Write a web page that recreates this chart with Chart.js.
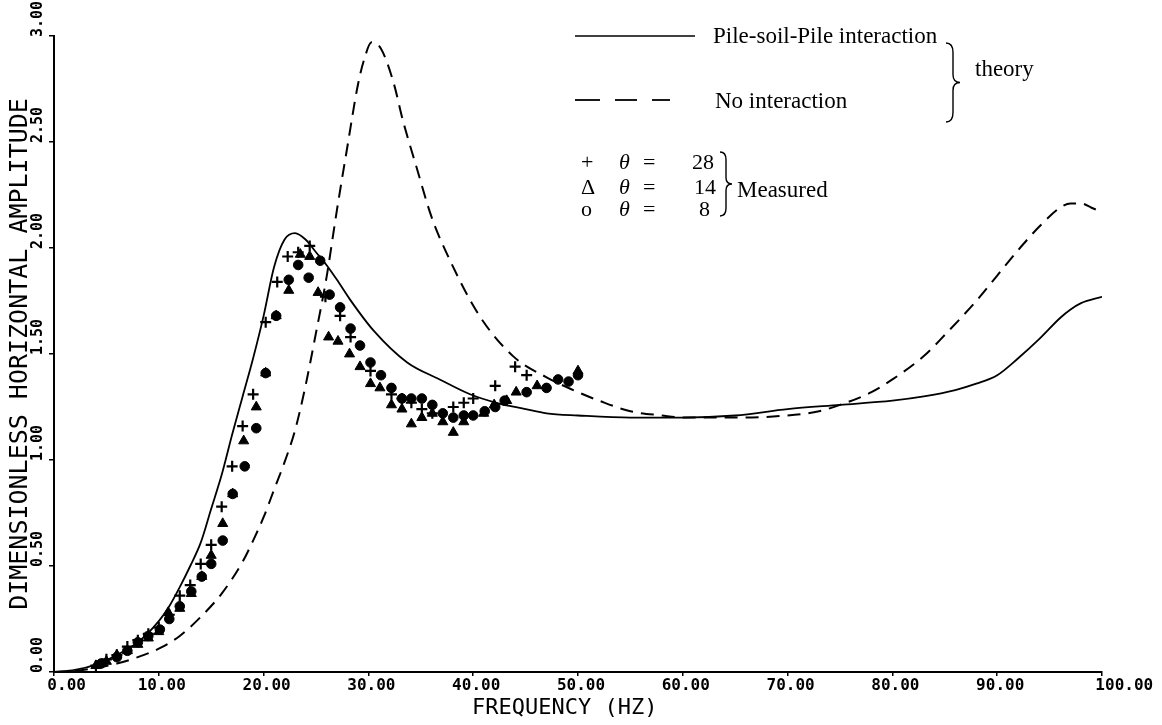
<!DOCTYPE html>
<html><head><meta charset="utf-8">
<script src="https://cdn.jsdelivr.net/npm/chart.js@4.4.0/dist/chart.umd.min.js"></script>
<style>html,body{margin:0;padding:0;background:#fff;}canvas{display:block;}</style>
</head><body>
<canvas id="c" width="1162" height="725"></canvas>
<script>
const xTickLabels = ['0.00','10.00','20.00','30.00','40.00','50.00','60.00','70.00','80.00','90.00','100.00'];
const yTickLabels = ['0.00','0.50','1.00','1.50','2.00','2.50','3.00'];

// Theory: pile-soil-pile interaction (solid)
const solidFreq = [0,2,4,6,8,10,11,12,13,14,15,16,17,18,19,20,21,22,23,24,25,26,27,28.2,30.5,33.7,36.8,39.7,42.2,45,47,50,55,60,65,70,75,80,83,86,88,90,92,94,96,97,98,100];
const solidAmp  = [0,0.01,0.035,0.08,0.14,0.24,0.31,0.40,0.50,0.61,0.77,0.93,1.12,1.30,1.48,1.68,1.91,2.04,2.07,2.04,1.98,1.92,1.85,1.76,1.61,1.46,1.38,1.31,1.27,1.24,1.22,1.21,1.20,1.20,1.21,1.24,1.26,1.28,1.30,1.33,1.36,1.40,1.48,1.57,1.67,1.71,1.74,1.77];

// Theory: no interaction (dashed)
const dashedFreq = [0,2,4,6,8,10,12,14,16,18,19,20,21,22,23,24,25,26,27,28,29,29.6,30.3,31.2,32.4,33.3,34.6,36,37.8,40.6,43.8,47,50,52,55,58,60,65,70,73,75,78,80,83,85,88,90,92,94,96,97,98,99,100];
const dashedAmp  = [0,0.005,0.02,0.04,0.07,0.11,0.17,0.26,0.37,0.52,0.62,0.73,0.86,0.99,1.14,1.35,1.60,1.86,2.18,2.48,2.77,2.89,2.97,2.94,2.78,2.60,2.38,2.15,1.94,1.68,1.49,1.39,1.32,1.28,1.23,1.21,1.20,1.20,1.21,1.23,1.26,1.32,1.38,1.49,1.59,1.75,1.87,1.99,2.10,2.19,2.21,2.21,2.19,2.17];

// Measured, theta = 28 (+)
const plusFreq = [4,5,6,7,8,9,10,11,12,13,14,15,16,17,18,19,20.2,21.3,22.3,23.3,24.4,25.9,27.3,28.3,30.2,32.2,33.2,34.1,35.1,36.1,38.1,39.1,40,42.1,44,45.1];
const plusAmp  = [0.03,0.06,0.08,0.12,0.15,0.18,0.21,0.27,0.36,0.41,0.51,0.60,0.78,0.97,1.16,1.31,1.65,1.84,1.96,1.98,2.01,1.77,1.68,1.58,1.42,1.31,1.29,1.27,1.24,1.22,1.25,1.27,1.29,1.35,1.44,1.40];

// Measured, theta = 14 (triangle)
const triFreq = [4,5,6,7,8,9,10,10.9,12,13.1,14.1,15,16.1,17.05,18.1,19.3,20.2,21.2,22.4,23.5,24.4,25.2,26.2,27.1,28.2,29.2,30.2,31.1,32.2,33.2,34.1,35.1,36.1,37.1,38.1,39.1,41,42,43.2,44.1,46.1,50];
const triAmp  = [0.03,0.05,0.08,0.10,0.13,0.16,0.19,0.28,0.30,0.37,0.45,0.55,0.70,0.84,1.09,1.25,1.41,1.68,1.80,1.97,1.96,1.79,1.58,1.56,1.50,1.44,1.36,1.34,1.26,1.24,1.17,1.20,1.22,1.18,1.13,1.18,1.22,1.26,1.28,1.32,1.35,1.42];

// Measured, theta = 8 (circle)
const cirFreq = [4.5,6,7,8,9,10.1,11,12,13.1,14.1,15,16.1,17.05,18.2,19.3,20.2,21.2,22.4,23.3,24.3,25.4,26.3,27.3,28.3,29.2,30.2,31.2,32.2,33.2,34.1,35.1,36.1,37.1,38.1,39.1,40,41.1,42.1,43,45.1,47,48.1,49.1,50];
const cirAmp  = [0.04,0.07,0.10,0.14,0.17,0.20,0.25,0.31,0.38,0.45,0.51,0.62,0.84,0.97,1.15,1.41,1.68,1.85,1.92,1.86,1.94,1.78,1.72,1.62,1.54,1.46,1.40,1.34,1.29,1.29,1.29,1.26,1.22,1.20,1.21,1.21,1.23,1.25,1.28,1.32,1.34,1.38,1.37,1.40];

const pts = (xs, ys) => xs.map((x, i) => ({x: x, y: ys[i]}));

function brace(ctx, x0, y0, y1, w) {
  const h = y1 - y0, ym = (y0 + y1) / 2, xm = x0 + w / 2;
  ctx.beginPath();
  ctx.moveTo(x0, y0);
  ctx.quadraticCurveTo(xm, y0, xm, y0 + h * 0.12);
  ctx.lineTo(xm, ym - h * 0.1);
  ctx.quadraticCurveTo(xm, ym, x0 + w, ym);
  ctx.quadraticCurveTo(xm, ym, xm, ym + h * 0.1);
  ctx.lineTo(xm, y1 - h * 0.12);
  ctx.quadraticCurveTo(xm, y1, x0, y1);
  ctx.stroke();
}

const legendPlugin = {
  id: 'paperLegend',
  afterDatasetsDraw(chart) {
    const ctx = chart.ctx;
    ctx.save();
    ctx.strokeStyle = '#000';
    ctx.fillStyle = '#000';
    ctx.lineWidth = 1.6;
    // solid sample
    ctx.beginPath(); ctx.moveTo(575, 36); ctx.lineTo(695, 36); ctx.stroke();
    // dashed sample
    ctx.lineWidth = 1.8;
    [[575,600],[615,637],[652,670]].forEach(s => { ctx.beginPath(); ctx.moveTo(s[0], 100); ctx.lineTo(s[1], 100); ctx.stroke(); });
    ctx.font = '23px "Liberation Serif", "DejaVu Serif", serif';
    ctx.textBaseline = 'alphabetic';
    ctx.textAlign = 'left';
    ctx.fillText('Pile-soil-Pile interaction', 713, 43);
    ctx.fillText('No interaction', 715, 108);
    ctx.fillText('theory', 975, 76);
    ctx.lineWidth = 1.4;
    brace(ctx, 946, 43, 122, 14);
    // measured block
    const rows = [['+', '28', 169, 692], ['\u0394', '14', 194, 694], ['o', '8', 216, 699]];
    rows.forEach(r => {
      ctx.font = '22px "Liberation Serif", serif';
      ctx.fillText(r[0], 581, r[2]);
      ctx.font = 'italic 22px "Liberation Serif", serif';
      ctx.fillText('\u03b8', 619, r[2]);
      ctx.font = '22px "Liberation Serif", serif';
      ctx.fillText('=', 643, r[2]);
      ctx.fillText(r[1], r[3], r[2]);
    });
    ctx.font = '23px "Liberation Serif", serif';
    ctx.fillText('Measured', 737, 197);
    brace(ctx, 720, 152, 216, 12);
    ctx.restore();
  }
};

const monoTick = {family: '"DejaVu Sans Mono", monospace', size: 16, weight: 'bold'};

new Chart(document.getElementById('c'), {
  type: 'scatter',
  data: {
    datasets: [
      {data: pts(plusFreq, plusAmp), pointStyle: 'cross', pointRadius: 5.5, borderColor: '#000', borderWidth: 2.2, backgroundColor: '#000', order: 0},
      {data: pts(triFreq, triAmp), pointStyle: 'triangle', pointRadius: 5.8, borderColor: '#000', borderWidth: 1, backgroundColor: '#000', order: 0},
      {data: pts(cirFreq, cirAmp), pointStyle: 'circle', pointRadius: 4.8, borderColor: '#000', borderWidth: 1, backgroundColor: '#000', order: 0},
      {data: pts(solidFreq, solidAmp), showLine: true, pointRadius: 0, borderColor: '#000', borderWidth: 1.8, cubicInterpolationMode: 'monotone', order: 1},
      {data: pts(dashedFreq, dashedAmp), showLine: true, pointRadius: 0, borderColor: '#000', borderWidth: 2, borderDash: [13, 8], cubicInterpolationMode: 'monotone', order: 1}
    ]
  },
  options: {
    responsive: false,
    animation: false,
    layout: {padding: {top: 36, right: 60, left: 0, bottom: 0}},
    plugins: {legend: {display: false}, tooltip: {enabled: false}},
    scales: {
      x: {
        type: 'linear', min: 0, max: 100,
        ticks: {stepSize: 10, autoSkip: false, maxRotation: 0, minRotation: 0, padding: 0, labelOffset: 3, color: '#000', font: monoTick,
          callback: (v, i) => (i === 0 ? '  ' : (i === xTickLabels.length - 1 ? '    ' : '')) + xTickLabels[i]},
        grid: {display: true, drawOnChartArea: false, drawTicks: true, tickLength: 4, color: '#000', lineWidth: 1.5},
        border: {display: true, color: '#000', width: 2},
        title: {display: true, text: 'FREQUENCY (HZ)  ', color: '#000', font: {family: '"DejaVu Sans Mono", monospace', size: 22, lineHeight: 1}, padding: {top: 0, bottom: 6}},
        afterFit: s => { s.height = 53; }
      },
      y: {
        type: 'linear', min: 0, max: 3,
        ticks: {stepSize: 0.5, autoSkip: false, minRotation: 90, maxRotation: 90, crossAlign: 'center', labelOffset: -17, padding: -7, color: '#000', font: {family: '"DejaVu Sans Mono", monospace', size: 15, weight: 'bold'},
          callback: (v, i) => yTickLabels[i]},
        grid: {display: true, drawOnChartArea: false, drawTicks: true, tickLength: 5, color: '#000', lineWidth: 1.5},
        border: {display: true, color: '#000', width: 2},
        title: {display: true, text: 'DIMENSIONLESS HORIZONTAL AMPLITUDE', color: '#000', font: {family: '"DejaVu Sans Mono", monospace', size: 25, lineHeight: 1.2}, padding: {top: 5, bottom: 0}},
        afterFit: s => { s.width = 54; }
      }
    }
  },
  plugins: [legendPlugin]
});
</script>
</body></html>
